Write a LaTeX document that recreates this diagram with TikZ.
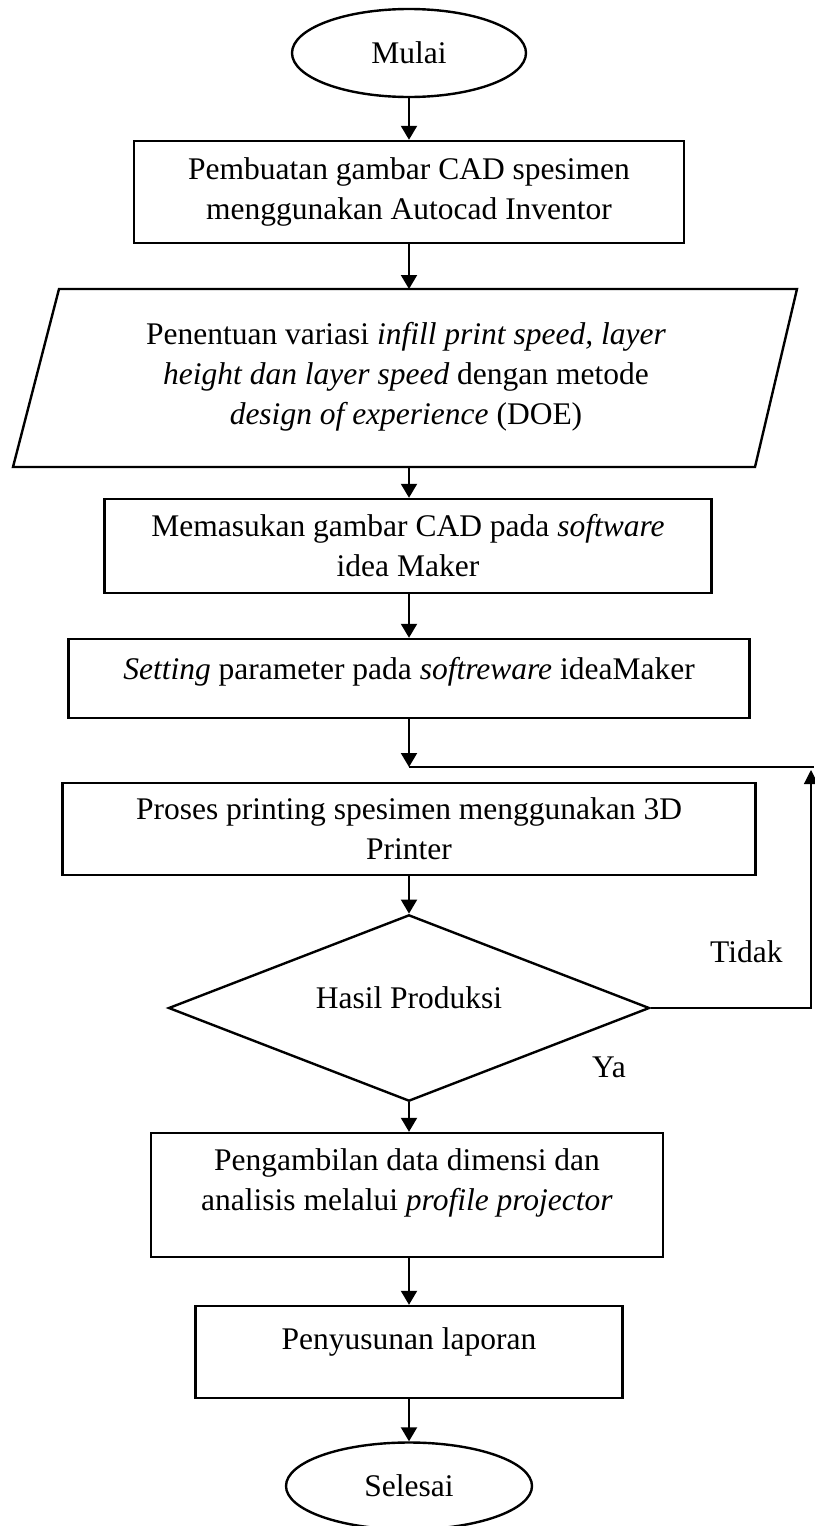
\documentclass[tikz,border=0pt]{standalone}
\usepackage{fontspec}
\setmainfont{Liberation Serif}
\usetikzlibrary{arrows.meta,shapes.geometric}
\begin{document}
\begin{tikzpicture}[x=1pt,y=-1pt,
  font=\fontsize{31.5}{40}\selectfont,
  boxnode/.style={draw, line width=2.4pt, rectangle, align=center, inner sep=0pt},
  termnode/.style={draw, line width=2.4pt, ellipse, inner sep=0pt},
  decnode/.style={draw, line width=2.4pt, diamond, inner sep=0pt},
  flow/.style={line width=2pt, -{Triangle[length=14pt,width=16pt]}},
  loopline/.style={line width=1.2pt},
  lbl/.style={inner sep=0pt, anchor=base west}
]
\useasboundingbox (0,0) rectangle (814,1526);

\node[termnode, minimum width=234pt, minimum height=88pt] (start) at (409,53) {Mulai};
\node[boxnode, minimum width=550pt, minimum height=102pt] (b1) at (409,192) {Pembuatan gambar CAD spesimen\\menggunakan Autocad Inventor};

\node[align=center, inner sep=0pt] (p) at (406,377) {Penentuan variasi \textit{infill print speed, layer}\\\textit{height dan layer speed} dengan metode\\\textit{design of experience} (DOE)};
\draw[line width=2.4pt] (59,289) -- (797,289) -- (755,467) -- (13,467) -- cycle;
\coordinate (pin) at (409,289);
\coordinate (pout) at (409,467);

\node[boxnode, minimum width=607pt, minimum height=94pt] (b3) at (408,546) {Memasukan gambar CAD pada \textit{software}\\idea Maker};
\node[boxnode, minimum width=681pt, minimum height=79pt] (b4) at (409,678.5) {\textit{Setting} parameter pada \textit{softreware} ideaMaker\rule[-21pt]{0pt}{0pt}};
\node[boxnode, minimum width=693pt, minimum height=92pt] (b5) at (409,829) {Proses printing spesimen menggunakan 3D\\Printer};
\node[decnode, minimum width=481pt, minimum height=179pt] (dec) at (409,1008) {\raisebox{0pt}[0pt][0pt]{Hasil Produksi}};
\node[boxnode, minimum width=512pt, minimum height=124pt] (b6) at (407,1195) {Pengambilan data dimensi dan\\analisis melalui \textit{profile projector}\rule[-31pt]{0pt}{0pt}};
\node[boxnode, minimum width=427pt, minimum height=92pt] (b7) at (409,1352) {Penyusunan laporan\rule[-26pt]{0pt}{0pt}};
\node[termnode, minimum width=246pt, minimum height=87pt] (end) at (409,1486) {Selesai};

\node[lbl] (tidak) at (710,962) {Tidak};
\node[lbl] (ya) at (592,1077) {Ya};

\coordinate (j) at (409,767);
\coordinate (jr) at (814,767);
\coordinate (lr) at (811,1008);
\coordinate (ur) at (811,770);

\draw[flow] (start.south) -- (b1.north -| start.south);
\draw[flow] (b1.south -| pin) -- (pin);
\draw[flow] (pout) -- (b3.north -| pout);
\draw[flow] (b3.south -| pout) -- (b4.north -| pout);
\draw[flow] (b4.south -| j) -- (j);
\draw[loopline] (j) -- (jr);
\draw[loopline, -{Triangle[length=14pt,width=14pt]}] (dec.east) -- (lr) -- (ur);
\draw[flow] (b5.south -| dec.north) -- (dec.north);
\draw[flow] (dec.south) -- (b6.north -| dec.south);
\draw[flow] (b6.south -| dec.south) -- (b7.north -| dec.south);
\draw[flow] (b7.south -| end.north) -- (end.north);
\end{tikzpicture}
\end{document}
